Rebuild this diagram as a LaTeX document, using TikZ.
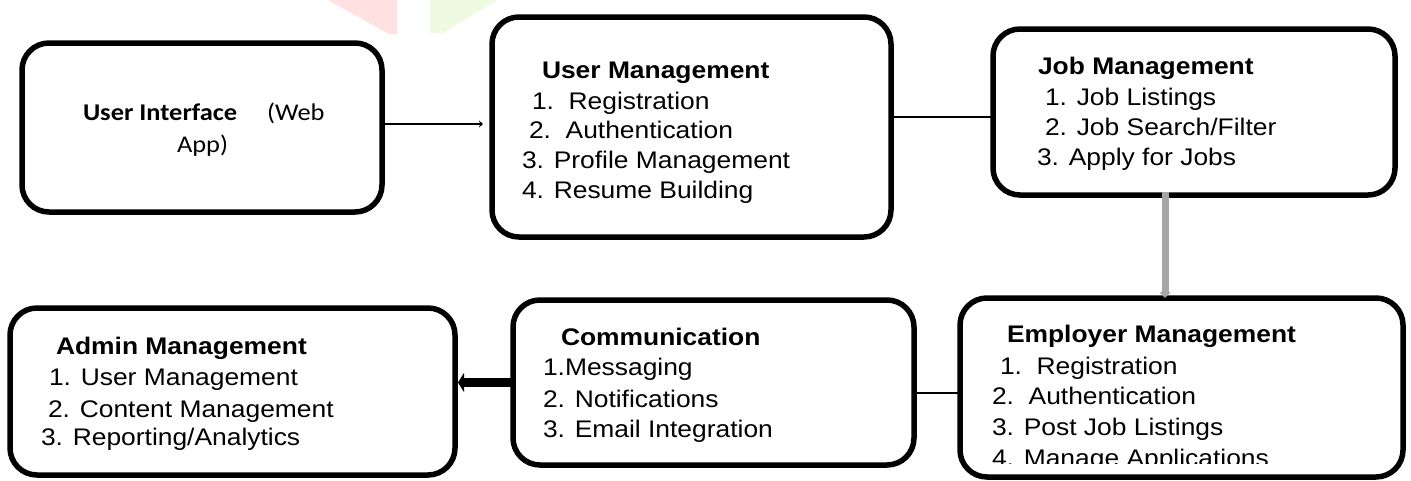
\documentclass[tikz,border=0pt]{standalone}
\usepackage{fontspec}
\setmainfont[FakeStretch=1.1]{Liberation Sans}
\newfontfamily\calibrifont[FakeStretch=1.1]{Carlito}
\usetikzlibrary{arrows.meta,calc}

\definecolor{wmred}{HTML}{FFE1E1}
\definecolor{wmgreen}{HTML}{EEFAE2}
\definecolor{flowgray}{HTML}{A6A6A6}

\begin{document}
\begin{tikzpicture}[x=1pt,y=-1pt,
  box/.style={draw=black, line width=5.5pt, rounded corners=27pt,
              inner sep=0pt, outer sep=0pt, fill=white},
  txt/.style={anchor=base west, inner sep=0pt, outer sep=0pt,
              font=\fontsize{24}{30}\selectfont},
  head/.style={txt, font=\fontsize{24}{30}\selectfont\bfseries},
  cal/.style={anchor=base west, inner sep=0pt, outer sep=0pt,
              font=\fontsize{24}{30}\selectfont\calibrifont},
  calhead/.style={cal, font=\fontsize{24}{30}\selectfont\calibrifont\bfseries},
  link/.style={draw=black, line width=2.5pt},
]
% page
\path[use as bounding box, fill=white] (0,0) rectangle (1411,480);

% faint background marks along the top edge
\fill[wmred]   (328,0) -- (397,0) -- (397,34) -- (389,34) -- cycle;
\fill[wmgreen] (430,0) -- (497,0) -- (443,33) -- (430,33) -- cycle;

% module boxes
\node[box, minimum width=360, minimum height=169] (ui)    at (202,127.5)  {};
\node[box, minimum width=399, minimum height=220] (um)    at (691.5,127)  {};
\node[box, minimum width=402, minimum height=166] (jm)    at (1194,112)   {};
\node[box, minimum width=445, minimum height=167] (admin) at (232.5,391.5){};
\node[box, minimum width=401, minimum height=165] (comm)  at (713.5,382.5){};
\node[box, minimum width=443, minimum height=179] (em)    at (1181.5,387.5){};

% user interface
\node[calhead] (ui-t) at (83,120)  {User Interface};
\node[cal]     (ui-a) at (267,120) {(Web};
\node[cal]     (ui-b) at (177,152) {App)};

% user management
\node[head] (um-t) at (542,78)  {User Management};
\node[txt]  (um-1) at (532,109) {1.\ \ Registration};
\node[txt]  (um-2) at (529,138) {2.\ \ Authentication};
\node[txt]  (um-3) at (522,168) {3. Profile Management};
\node[txt]  (um-4) at (522,198) {4. Resume Building};

% job management
\node[head] (jm-t) at (1038,74)  {Job Management};
\node[txt]  (jm-1) at (1045,105) {1. Job Listings};
\node[txt]  (jm-2) at (1045,135) {2. Job Search/Filter};
\node[txt]  (jm-3) at (1037,165) {3. Apply for Jobs};

% employer management (last line runs into the box edge)
\begin{scope}
  \clip (950,290) rectangle (1411,463.5);
  \node[head] (em-t) at (1007,342) {Employer Management};
  \node[txt]  (em-1) at (1000,374) {1.\ \ Registration};
  \node[txt]  (em-2) at (992,404)  {2.\ \ Authentication};
  \node[txt]  (em-3) at (992,435)  {3. Post Job Listings};
  \node[txt]  (em-4) at (992,466)  {4. Manage Applications};
\end{scope}

% communication
\node[head] (cm-t) at (561,345) {Communication};
\node[txt]  (cm-1) at (543,375) {1.Messaging};
\node[txt]  (cm-2) at (543,407) {2. Notifications};
\node[txt]  (cm-3) at (543,437) {3. Email Integration};

% admin management
\node[head] (ad-t) at (56,354) {Admin Management};
\node[txt]  (ad-1) at (49,385) {1. User Management};
\node[txt]  (ad-2) at (48,417) {2. Content Management};
\node[txt]  (ad-3) at (41,445) {3. Reporting/Analytics};

% connectors
\coordinate (a1) at ($(ui.east)+(0,-3.5)$);
\draw[link, line width=2pt, shorten >=9pt,
      -{Stealth[length=4pt,width=7pt]}] (a1) -- (a1 -| um.west);

\coordinate (a2) at ($(jm.west)+(0,5)$);
\draw[link] (a2 -| um.east) -- (a2);

\coordinate (a3) at ($(jm.south)+(-29,-3)$);
\draw[draw=flowgray, line width=7pt,
      -{Triangle[length=6pt,width=11pt]}] (a3) -- (a3 |- em.north);

\coordinate (a4) at ($(em.west)+(0,5.5)$);
\draw[link] (a4) -- (a4 -| comm.east);

\draw[draw=black, line width=9pt, shorten >=3pt,
      -{Triangle[length=6pt,width=19pt]}] (comm.west) -- (comm.west -| admin.east);
\end{tikzpicture}
\end{document}
